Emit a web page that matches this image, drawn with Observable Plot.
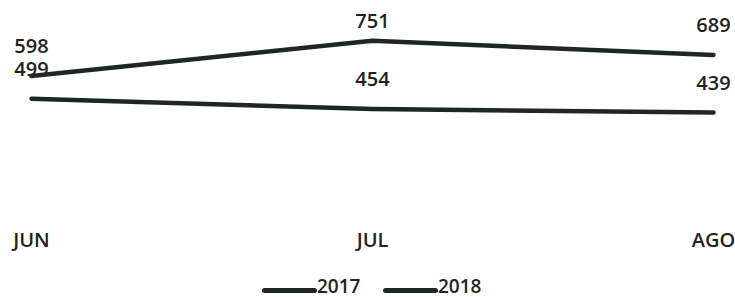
<!DOCTYPE html>
<html>
<head>
<meta charset="utf-8">
<script src="https://cdn.jsdelivr.net/npm/d3@7"></script>
<script src="https://cdn.jsdelivr.net/npm/@observablehq/plot@0.6"></script>
<style>
  html, body { margin: 0; padding: 0; background: #fff; }
  body { width: 735px; font-family: "Open Sans", sans-serif; }
  #legend { position: relative; height: 25px; width: 735px; }
  .sw { position: absolute; height: 5px; border-radius: 2.5px; background: #1d2826; }
  .lt { position: absolute; font-size: 19px; line-height: 16px; color: #222; font-weight: 600; }
</style>
</head>
<body>
<div id="chart"></div>
<div id="legend"></div>
<script>
const months = ["JUN", "JUL", "AGO"];
const series = ["2017", "2018"];
const values2017 = [499, 454, 439];
const values2018 = [598, 751, 689];

const lineColor = "#1d2826";
const data = [];
months.forEach((m, i) => {
  data.push({month: m, year: "2017", value: values2017[i]});
  data.push({month: m, year: "2018", value: values2018[i]});
});
const maxValue = d3.max(data, d => d.value);

const chart = Plot.plot({
  width: 735,
  height: 272,
  marginLeft: 30,
  marginRight: 22,
  marginTop: 6,
  marginBottom: 59,
  style: {fontFamily: "Open Sans, sans-serif", background: "#fff"},
  x: {type: "point", domain: months, padding: 0},
  y: {domain: [0, 900], axis: null},
  color: {domain: series, range: [lineColor, lineColor]},
  marks: [
    Plot.axisX({tickSize: 0, tickPadding: 19, fontSize: 20, fontWeight: 600, fill: "#222", label: null}),
    Plot.line(data, {x: "month", y: "value", z: "year", stroke: "year", strokeWidth: 4.5, strokeLinecap: "round", strokeLinejoin: "round"}),
    Plot.text(data.filter(d => d.value !== maxValue), {x: "month", y: "value", text: d => String(d.value), dy: -29, fontSize: 20, fontWeight: 600, fill: "#222"}),
    Plot.text(data.filter(d => d.value === maxValue), {x: "month", y: "value", text: d => String(d.value), dy: -19, fontSize: 20, fontWeight: 600, fill: "#222"})
  ]
});
document.getElementById("chart").appendChild(chart);

const legend = document.getElementById("legend");
const items = [{label: series[0], x: 262}, {label: series[1], x: 383}];
items.forEach(it => {
  const sw = document.createElement("div");
  sw.className = "sw";
  sw.style.left = it.x + "px";
  sw.style.width = "55px";
  sw.style.top = "16px";
  legend.appendChild(sw);
  const t = document.createElement("div");
  t.className = "lt";
  t.style.left = (it.x + 55) + "px";
  t.style.top = "6px";
  t.textContent = it.label;
  legend.appendChild(t);
});
</script>
</body>
</html>
